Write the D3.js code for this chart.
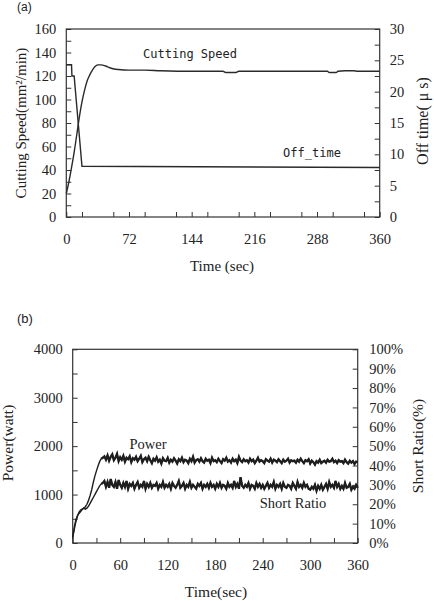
<!DOCTYPE html>
<html>
<head>
<meta charset="utf-8">
<script src="https://cdn.jsdelivr.net/npm/d3@7"></script>
<style>
  body { margin: 0; background: #fff; }
  text { font-family: "Liberation Serif", "Times New Roman", serif; fill: #222; }
  .tick line { stroke: #333; stroke-width: 1; }
</style>
</head>
<body>
<svg id="chart" width="434" height="601"></svg>
<script>
// ---- (a) cutting speed / off time ----
const speedTime = [0, 3, 6, 9, 12, 15, 18, 21, 24, 27, 30, 33, 36, 40, 45, 50, 55, 60, 72, 90, 108, 144, 180, 183, 195, 198, 250, 300, 302, 310, 312, 320, 330, 335, 360];
const speedVal = [20, 30, 42, 55, 70, 85, 98, 108, 116, 121, 125, 128, 129.5, 129.5, 128.5, 127, 126, 125.5, 125, 125, 124.5, 124, 124, 123, 123, 124, 124, 124, 123, 123, 124, 124.5, 124.5, 124, 124];
const offTime = [0, 6, 6.5, 9, 18, 360];
const offVal = [24.3, 24.3, 22.5, 22.5, 8.1, 7.9];
const ticksA = { x: [0, 72, 144, 216, 288, 360], left: [0, 20, 40, 60, 80, 100, 120, 140, 160], right: [0, 5, 10, 15, 20, 25, 30] };

// ---- (b) power / short ratio, sampled every 2 sec ----
const sampleTime = d3.range(0, 361, 2);
const powerVal = [
  100, 330, 480, 560, 610, 650, 690, 720, 750, 800, 880, 980, 1100, 1250, 1380, 1490, 1590, 1680, 1740, 1760,
  1790, 1720, 1810, 1700, 1780, 1830, 1710, 1760, 1840, 1690,
  1770, 1720, 1800, 1680, 1760, 1730, 1790, 1670, 1750, 1720,
  1780, 1690, 1740, 1800, 1670, 1730, 1760, 1690, 1780, 1710,
  1650, 1740, 1700, 1770, 1680, 1720, 1640, 1750, 1700, 1690,
  1760, 1660, 1720, 1680, 1750, 1700, 1640, 1730, 1690, 1760,
  1670, 1720, 1700, 1650, 1740, 1690, 1780, 1660, 1710, 1730,
  1680, 1750, 1690, 1660, 1740, 1700, 1720, 1650, 1760, 1690,
  1710, 1670, 1740, 1690, 1650, 1730, 1700, 1760, 1680, 1710,
  1660, 1740, 1690, 1720, 1650, 1780, 1700, 1670, 1730, 1690,
  1710, 1660, 1740, 1690, 1720, 1650, 1700, 1760, 1680, 1710,
  1690, 1650, 1730, 1700, 1680, 1740, 1660, 1720, 1700, 1670,
  1730, 1690, 1650, 1720, 1680, 1700, 1740, 1660, 1710, 1690,
  1700, 1660, 1720, 1680, 1740, 1690, 1650, 1710, 1690, 1730,
  1640, 1700, 1670, 1620, 1690, 1660, 1720, 1650, 1680, 1700,
  1660, 1720, 1680, 1690, 1740, 1670, 1700, 1650, 1710, 1680,
  1690, 1650, 1720, 1670, 1640, 1700, 1660, 1690, 1630, 1680,
  1670
];
const shortVal = [
  3, 7, 11, 14, 16, 17, 17.5, 18, 17.5, 18, 19, 20.5, 22, 23.5, 25, 26.5, 28, 29.5, 30.5, 31,
  32, 29, 31.5, 28.5, 33, 30, 29, 31.5, 28, 32.5,
  30, 28.5, 31, 29, 32, 28, 30.5, 29.5, 31, 28,
  30, 31.5, 28.5, 30, 29, 32, 28, 30.5, 29, 31,
  28.5, 30, 29.5, 31, 28, 30, 29, 31.5, 28.5, 30,
  29, 30.5, 28, 31, 29.5, 28.5, 30, 32, 28.5, 29.5,
  31, 28, 30, 29, 31.5, 28.5, 30, 29, 28, 30.5,
  29.5, 31, 28, 30, 29, 30.5, 28.5, 31, 29, 30,
  28, 30.5, 29, 31, 28.5, 30, 29.5, 28, 31, 29,
  30, 28.5, 32, 29, 30.5, 28, 34, 29.5, 28.5, 30,
  29, 31, 28, 30, 29.5, 28, 31, 29, 30.5, 28.5,
  30, 28, 29.5, 31, 28.5, 30, 29, 31.5, 28, 30,
  29, 30.5, 28, 31, 29, 28.5, 30, 29.5, 28, 31,
  29.5, 28, 31.5, 29, 30, 28.5, 31, 29, 30, 28,
  27.5, 29, 28, 30, 27, 29.5, 28, 30, 27.5, 29,
  30.5, 28, 31.5, 29, 30, 28.5, 32, 29, 30.5, 28,
  29.5, 28, 31, 28.5, 29, 30.5, 27.5, 29, 28, 30,
  28.5
];
const ticksB = { x: [0, 60, 120, 180, 240, 300, 360], left: [0, 1000, 2000, 3000, 4000], right: d3.range(0, 101, 10) };

const svg = d3.select("#chart");

function panel(o) {
  const g = svg.append("g");
  const x = d3.scaleLinear().domain([0, 360]).range([o.left, o.right]);
  const yL = d3.scaleLinear().domain(o.leftDomain).range([o.bottom, o.top]);
  const yR = d3.scaleLinear().domain(o.rightDomain).range([o.bottom, o.top]);

  // minor ticks first, then labelled ticks
  g.append("g").attr("transform", `translate(0,${o.bottom})`)
    .call(d3.axisBottom(x).tickValues(o.xMinor).tickSizeInner(-5).tickSizeOuter(0).tickFormat(""));
  g.append("g").attr("transform", `translate(${o.left},0)`)
    .call(d3.axisLeft(yL).tickValues(o.leftMinor).tickSizeInner(-5).tickSizeOuter(0).tickFormat(""));
  g.append("g").attr("transform", `translate(${o.right},0)`)
    .call(d3.axisRight(yR).tickValues(o.rightMinor).tickSizeInner(-5).tickSizeOuter(0).tickFormat(""));

  g.append("g").attr("transform", `translate(0,${o.bottom})`)
    .call(d3.axisBottom(x).tickValues(o.ticks.x).tickSizeInner(-5).tickSizeOuter(0).tickPadding(17).tickFormat(d3.format("d")));
  g.append("g").attr("transform", `translate(${o.left},0)`)
    .call(d3.axisLeft(yL).tickValues(o.ticks.left).tickSizeInner(-5).tickSizeOuter(0).tickPadding(10).tickFormat(d3.format("d")));
  g.append("g").attr("transform", `translate(${o.right},0)`)
    .call(d3.axisRight(yR).tickValues(o.ticks.right).tickSizeInner(-5).tickSizeOuter(0).tickPadding(o.rightPad).tickFormat(o.rightFormat));

  g.selectAll(".domain").remove();
  g.selectAll(".tick text").attr("font-family", "Liberation Serif").attr("font-size", 14.5).attr("fill", "#222");

  g.append("rect")
    .attr("x", o.left).attr("y", o.top)
    .attr("width", o.right - o.left).attr("height", o.bottom - o.top)
    .attr("fill", "none").attr("stroke", "#333").attr("stroke-width", 1.2);

  return { g, x, yL, yR };
}

// ---------- panel (a) ----------
const a = panel({
  left: 66.3, right: 379.7, top: 29, bottom: 217,
  leftDomain: [0, 160], rightDomain: [0, 30],
  ticks: ticksA,
  xMinor: d3.range(18, 360, 36),
  leftMinor: d3.range(10, 160, 20),
  rightMinor: d3.range(2.5, 30, 5),
  rightPad: 10,
  rightFormat: d3.format("d")
});

a.g.append("path")
  .datum(speedTime.map((t, i) => [t, speedVal[i]]))
  .attr("fill", "none").attr("stroke", "#2a2a2a").attr("stroke-width", 1.4)
  .attr("d", d3.line().x(d => a.x(d[0])).y(d => a.yL(d[1])).curve(d3.curveMonotoneX));

a.g.append("path")
  .datum(offTime.map((t, i) => [t, offVal[i]]))
  .attr("fill", "none").attr("stroke", "#2a2a2a").attr("stroke-width", 1.4)
  .attr("d", d3.line().x(d => a.x(d[0])).y(d => a.yR(d[1])));

a.g.append("text").attr("x", 190).attr("y", 58).attr("text-anchor", "middle")
  .style("font-family", "'DejaVu Sans Mono', monospace").attr("font-size", 12).attr("fill", "#333").text("Cutting Speed");
a.g.append("text").attr("x", 312).attr("y", 157).attr("text-anchor", "middle")
  .style("font-family", "'DejaVu Sans Mono', monospace").attr("font-size", 12).attr("fill", "#333").text("Off_time");

a.g.append("text").attr("x", 222).attr("y", 271).attr("text-anchor", "middle")
  .attr("font-size", 15).text("Time (sec)");
a.g.append("text").attr("transform", "translate(26,123) rotate(-90)").attr("text-anchor", "middle")
  .attr("font-size", 15).text("Cutting Speed(mm²/min)");
a.g.append("text").attr("transform", "translate(428,121) rotate(-90)").attr("text-anchor", "middle")
  .attr("font-size", 16).text("Off time( μ s)");
svg.append("text").attr("x", 17).attr("y", 11)
  .style("font-family", "'Liberation Sans', Arial, sans-serif").attr("font-size", 12).text("(a)");

// ---------- panel (b) ----------
const b = panel({
  left: 72.7, right: 357.7, top: 349.3, bottom: 543,
  leftDomain: [0, 4000], rightDomain: [0, 100],
  ticks: ticksB,
  xMinor: d3.range(30, 360, 60),
  leftMinor: d3.range(500, 4000, 1000),
  rightMinor: [],
  rightPad: 11.5,
  rightFormat: d => d + "%"
});

const powerPts = sampleTime.map((t, i) => [t, powerVal[i]]);
const shortPts = sampleTime.map((t, i) => [t, shortVal[i]]);
const powerLine = d3.line().x(d => b.x(d[0])).y(d => b.yL(d[1]));
const shortLine = d3.line().x(d => b.x(d[0])).y(d => b.yR(d[1]));

// thin trace for the ramp, heavier trace for the noisy plateau
b.g.append("path").datum(powerPts)
  .attr("fill", "none").attr("stroke", "#1e1e1e").attr("stroke-width", 1.4).attr("d", powerLine);
b.g.append("path").datum(powerPts.filter(d => d[0] >= 36))
  .attr("fill", "none").attr("stroke", "#1e1e1e").attr("stroke-width", 2.3).attr("d", powerLine);
b.g.append("path").datum(shortPts)
  .attr("fill", "none").attr("stroke", "#1e1e1e").attr("stroke-width", 1.4).attr("d", shortLine);
b.g.append("path").datum(shortPts.filter(d => d[0] >= 36))
  .attr("fill", "none").attr("stroke", "#1e1e1e").attr("stroke-width", 2.3).attr("d", shortLine);

b.g.append("text").attr("x", 148).attr("y", 449).attr("text-anchor", "middle")
  .attr("font-size", 14.5).text("Power");
b.g.append("text").attr("x", 293).attr("y", 508).attr("text-anchor", "middle")
  .attr("font-size", 14.5).text("Short Ratio");

b.g.append("text").attr("x", 216).attr("y", 597).attr("text-anchor", "middle")
  .attr("font-size", 15.5).text("Time(sec)");
b.g.append("text").attr("transform", "translate(13,443) rotate(-90)").attr("text-anchor", "middle")
  .attr("font-size", 15.5).text("Power(watt)");
b.g.append("text").attr("transform", "translate(423,446) rotate(-90)").attr("text-anchor", "middle")
  .attr("font-size", 15.5).text("Short Ratio(%)");
svg.append("text").attr("x", 17).attr("y", 323)
  .style("font-family", "'Liberation Sans', Arial, sans-serif").attr("font-size", 13).text("(b)");
</script>
</body>
</html>
